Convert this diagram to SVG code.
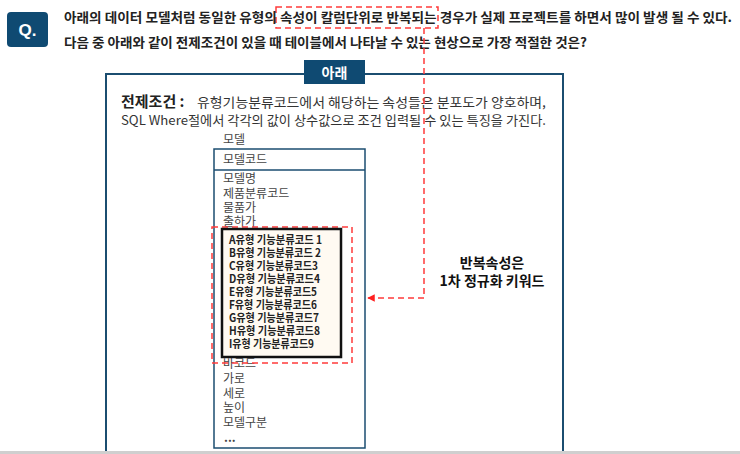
<svg xmlns="http://www.w3.org/2000/svg" width="740" height="454" viewBox="0 0 740 454">
<style>
text{font-family:"Noto Sans CJK KR","Noto Sans",sans-serif;}
.q{font-size:13px;font-weight:bold;fill:#222;}
.prem{font-size:13px;fill:#333;}
.attr{font-size:12px;fill:#444;}
.rep{font-size:11px;font-weight:bold;fill:#222;}
.key{font-size:14px;font-weight:bold;fill:#111;text-anchor:middle;}
.blue{fill:#0f4a72;}
.dash{fill:none;stroke:#ff3b3b;stroke-width:1.5;stroke-dasharray:6 4;}
</style>
<defs>
<marker id="arr" viewBox="0 0 10 10" refX="9" refY="5" markerWidth="5" markerHeight="5" orient="auto">
<path d="M0,0 L10,5 L0,10 z" fill="#ff2020"/>
</marker>
</defs>
<rect width="740" height="454" fill="#ffffff"/>
<g id="question">
<rect class="blue" x="7" y="12" width="41" height="35" rx="4"/>
<text x="27.5" y="36" font-size="17" font-weight="bold" fill="#fff" text-anchor="middle" style="font-family:'Liberation Sans',sans-serif">Q.</text>
<rect x="276" y="7" width="162" height="21" fill="#fdf6ea" class="dash"/>
<text class="q" x="64" y="22" textLength="668" lengthAdjust="spacingAndGlyphs">아래의 데이터 모델처럼 동일한 유형의 속성이 칼럼단위로 반복되는 경우가 실제 프로젝트를 하면서 많이 발생 될 수 있다.</text>
<text class="q" x="64" y="47" textLength="523" lengthAdjust="spacingAndGlyphs">다음 중 아래와 같이 전제조건이 있을 때 테이블에서 나타날 수 있는 현상으로 가장 적절한 것은?</text>
</g>
<g id="frame">
<rect x="106" y="74" width="457" height="400" fill="none" stroke="#1b4d70" stroke-width="2"/>
<rect class="blue" x="304" y="60" width="61" height="24"/>
<text x="334.5" y="78" font-size="14" font-weight="bold" fill="#fff" text-anchor="middle">아래</text>
</g>
<g id="premise">
<text x="121" y="107" font-size="15" font-weight="bold" fill="#222">전제조건 :</text>
<text class="prem" x="197" y="107" textLength="349" lengthAdjust="spacingAndGlyphs">유형기능분류코드에서 해당하는 속성들은 분포도가 양호하며,</text>
<text class="prem" x="121" y="125" textLength="425" lengthAdjust="spacingAndGlyphs">SQL Where절에서 각각의 값이 상수값으로 조건 입력될 수 있는 특징을 가진다.</text>
</g>
<g id="model-table">
<text class="attr" x="223" y="144">모델</text>
<rect x="214" y="149" width="151" height="299" fill="#fff" stroke="#1b4d70" stroke-width="1.5"/>
<line x1="214" y1="170" x2="365" y2="170" stroke="#1b4d70" stroke-width="1.5"/>
<text class="attr" x="223" y="164">모델코드</text>
<text class="attr" x="223" y="183">모델명</text>
<text class="attr" x="223" y="198">제품분류코드</text>
<text class="attr" x="223" y="212">물품가</text>
<text class="attr" x="223" y="226">출하가</text>
<text class="attr" x="223" y="368">바코드</text>
<text class="attr" x="223" y="383">가로</text>
<text class="attr" x="223" y="398">세로</text>
<text class="attr" x="223" y="412">높이</text>
<text class="attr" x="223" y="427">모델구분</text>
<text class="attr" x="224" y="442" font-weight="bold">...</text>
</g>
<g id="repeat-group">
<rect x="212" y="227" width="140" height="136" fill="#fff" class="dash"/>
<rect x="222" y="229" width="119" height="128" fill="#fffaf2" stroke="#111" stroke-width="2.5"/>
<text class="rep" x="229" y="244" textLength="93" lengthAdjust="spacingAndGlyphs">A유형 기능분류코드 1</text>
<text class="rep" x="229" y="257" textLength="92" lengthAdjust="spacingAndGlyphs">B유형 기능분류코드 2</text>
<text class="rep" x="229" y="270" textLength="89" lengthAdjust="spacingAndGlyphs">C유형 기능분류코드3</text>
<text class="rep" x="229" y="283" textLength="91" lengthAdjust="spacingAndGlyphs">D유형 기능분류코드4</text>
<text class="rep" x="229" y="296" textLength="88" lengthAdjust="spacingAndGlyphs">E유형 기능분류코드5</text>
<text class="rep" x="229" y="309" textLength="88" lengthAdjust="spacingAndGlyphs">F유형 기능분류코드6</text>
<text class="rep" x="229" y="322" textLength="90" lengthAdjust="spacingAndGlyphs">G유형 기능분류코드7</text>
<text class="rep" x="229" y="335" textLength="91" lengthAdjust="spacingAndGlyphs">H유형 기능분류코드8</text>
<text class="rep" x="229" y="348" textLength="85" lengthAdjust="spacingAndGlyphs">I유형 기능분류코드9</text>
</g>
<g id="keyword">
<text class="key" x="492" y="268">반복속성은</text>
<text class="key" x="492" y="286">1차 정규화 키워드</text>
</g>
<g id="connectors">
<path class="dash" d="M424,28 L424,298 L368,298" marker-end="url(#arr)"/>
</g>
<rect x="0" y="451" width="740" height="3" fill="#cfcfcf"/>
</svg>
